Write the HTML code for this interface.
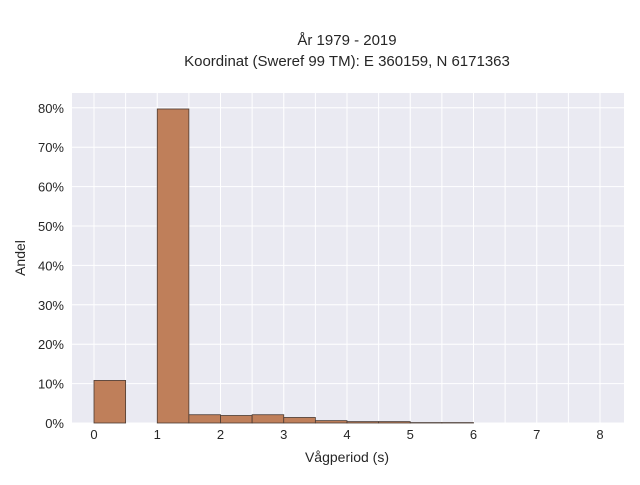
<!DOCTYPE html>
<html><head><meta charset="utf-8"><style>
body{margin:0;background:#fff;}
text{font-family:"Liberation Sans",sans-serif;fill:#262626;}
</style></head><body>
<svg width="640" height="480" xmlns="http://www.w3.org/2000/svg">
<text x="347" y="45" font-size="15" text-anchor="middle">År 1979 - 2019</text>
<text x="347" y="66" font-size="15" text-anchor="middle">Koordinat (Sweref 99 TM): E 360159, N 6171363</text>
<rect x="72" y="93" width="552" height="330" fill="#eaeaf2"/>
<g id="grid"></g>
<g id="bars"></g>
<g id="ticks"></g>
<text x="347" y="462" font-size="14" text-anchor="middle">Vågperiod (s)</text>
<text x="25" y="258" font-size="14" text-anchor="middle" transform="rotate(-90 25 258)">Andel</text>
</svg>
<script>
const binStarts=[0,0.5,1,1.5,2,2.5,3,3.5,4,4.5,5,5.5];
const binValues=[10.8,0,79.7,2.1,1.9,2.1,1.4,0.6,0.35,0.35,0.1,0.1];
const binWidth=0.5;
const xTicks=[0,1,2,3,4,5,6,7,8];
const yTicks=[0,10,20,30,40,50,60,70,80];
const xs=v=>94+v*63.25, ys=v=>423-v*3.94;
const NS="http://www.w3.org/2000/svg";
const g=document.getElementById('grid'),b=document.getElementById('bars'),t=document.getElementById('ticks');
for(let v=-0.25;v<=8.4;v+=0.5){if(v<0)continue;}
for(let k=0;k<=16;k++){const v=k*0.5;const l=document.createElementNS(NS,'line');


l.setAttribute('x1',xs(v));l.setAttribute('x2',xs(v));l.setAttribute('y1',93);l.setAttribute('y2',423);l.setAttribute('stroke','#fff');l.setAttribute('stroke-width','1');g.appendChild(l);}
yTicks.forEach(v=>{const l=document.createElementNS(NS,'line');


l.setAttribute('x1',72);l.setAttribute('x2',624);l.setAttribute('y1',ys(v));l.setAttribute('y2',ys(v));l.setAttribute('stroke','#fff');l.setAttribute('stroke-width','1');g.appendChild(l);
const tx=document.createElementNS(NS,'text');


tx.setAttribute('x',64);tx.setAttribute('y',ys(v)+5);tx.setAttribute('font-size','13');tx.setAttribute('text-anchor','end');tx.textContent=v+'%';t.appendChild(tx);});
xTicks.forEach(v=>{const tx=document.createElementNS(NS,'text');


tx.setAttribute('x',xs(v));tx.setAttribute('y',439);tx.setAttribute('font-size','13');tx.setAttribute('text-anchor','middle');tx.textContent=v;t.appendChild(tx);});
binStarts.forEach((s,i)=>{const v=binValues[i];if(v<=0)return;const r=document.createElementNS(NS,'rect');


r.setAttribute('x',xs(s));r.setAttribute('width',xs(s+binWidth)-xs(s));r.setAttribute('y',ys(v));r.setAttribute('height',ys(0)-ys(v));
r.setAttribute('fill','#bf7f5a');r.setAttribute('stroke','#4a3a32');r.setAttribute('stroke-width','0.8');b.appendChild(r);});
</script>
</body></html>
